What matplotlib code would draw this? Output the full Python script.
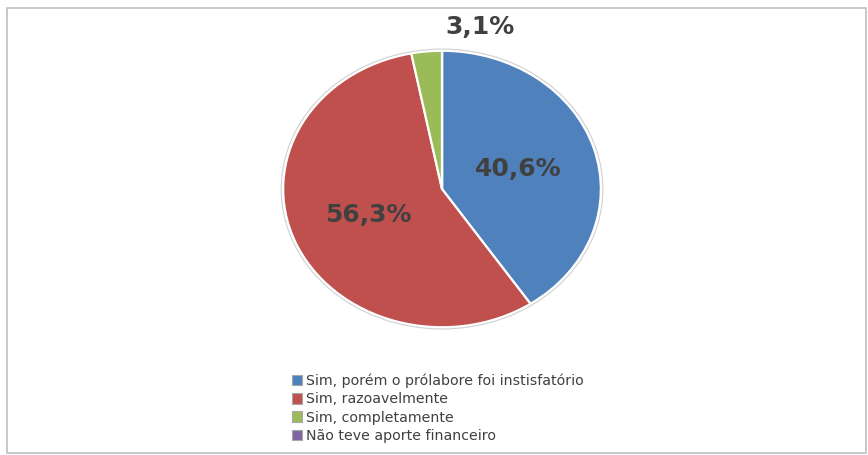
import numpy as np
import matplotlib
matplotlib.use('Agg')
import matplotlib.pyplot as plt
from matplotlib.patches import Patch, Rectangle, Ellipse

# ── Data ─────────────────────────────────────────────────────────────
categories = [
    'Sim, porém o prólabore foi instisfatório',
    'Sim, razoavelmente',
    'Sim, completamente',
    'Não teve aporte financeiro',
]
shares = [40.6, 56.3, 3.1, 0.0]
colors = ['#4F81BD', '#C0504D', '#9BBB59', '#8064A2']

TEXT = '#404040'

fig = plt.figure(figsize=(8.68, 4.55), dpi=100)

# outer chart frame
fig.patches.append(Rectangle((0.008, 0.004), 0.99, 0.978, transform=fig.transFigure,
                             fill=False, edgecolor='#bfbfbf', lw=1.2))

# pie axes (auto aspect gives the stretched ellipse)
ax = fig.add_axes([0.3226, 0.2747, 0.3733, 0.6198])
wedges, _ = ax.pie(shares, colors=colors, startangle=90, counterclock=False,
                   radius=1.0, normalize=True,
                   wedgeprops=dict(edgecolor='white', linewidth=1.6))
ax.add_patch(Ellipse((0, 0), 2.025, 2.025, fill=False, edgecolor='#d0d0d0', lw=0.8))
ax.set_aspect('auto')
ax.set_xlim(-1.02, 1.02)
ax.set_ylim(-1.02, 1.02)
ax.axis('off')

# percentage labels
for w, v in zip(wedges, shares):
    if v <= 0:
        continue
    mid = np.deg2rad((w.theta1 + w.theta2) / 2)
    if v < 10:
        x, y = 0.24, 1.17   # small slice: label sits above the pie
    else:
        x, y = 0.5 * np.cos(mid), 0.5 * np.sin(mid)
    ax.text(x, y, f'{v:.1f}%'.replace('.', ','), ha='center', va='center',
            fontsize=18, fontweight='bold', color=TEXT, clip_on=False)

# legend
handles = [Patch(facecolor=c, edgecolor='#a6a6a6', lw=0.8) for c in colors]
fig.legend(handles, categories, loc='upper left', bbox_to_anchor=(0.336, 0.179),
           frameon=False, fontsize=10.2, labelcolor=TEXT,
           handlelength=0.75, handleheight=0.75, handletextpad=0.25,
           labelspacing=0.3, borderpad=0, borderaxespad=0)

fig.savefig('out.png', dpi=100)
